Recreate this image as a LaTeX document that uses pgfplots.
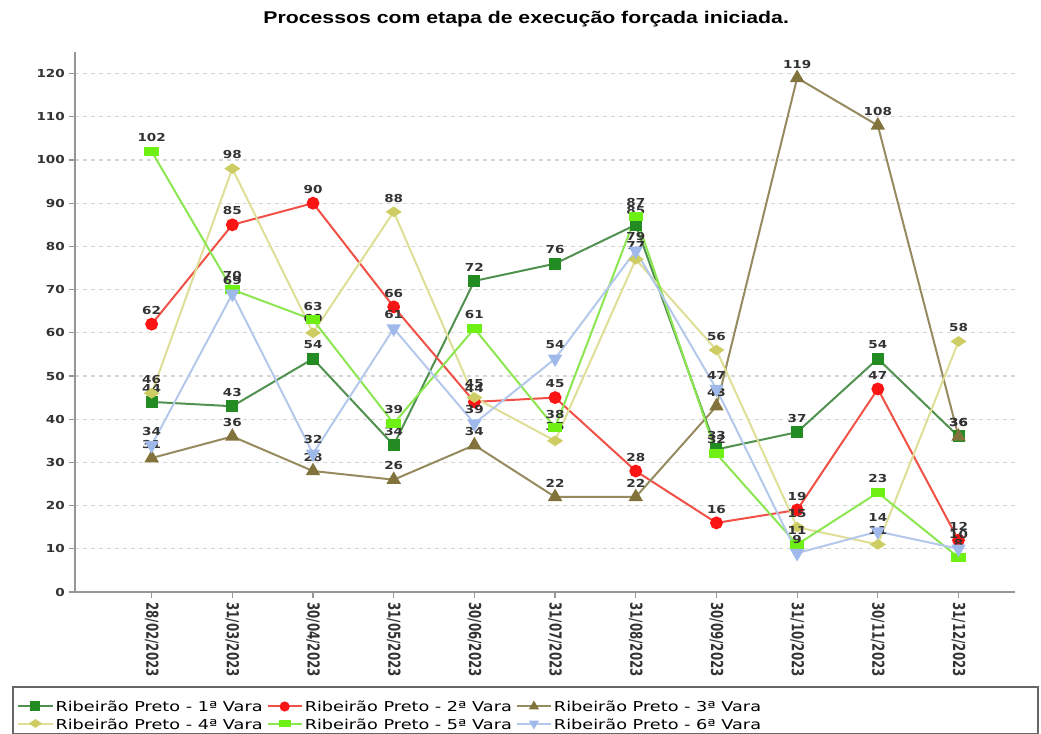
\documentclass[border=0pt]{standalone}
\usepackage{fontspec}
\setmainfont{DejaVu Sans}
\newfontfamily\titlefont{Liberation Sans}
\usepackage{pgfplots}
\pgfplotsset{compat=1.18}

\definecolor{cA}{RGB}{34,140,34}
\definecolor{cAl}{RGB}{80,145,80}
\definecolor{cB}{RGB}{250,20,20}
\definecolor{cBl}{RGB}{240,80,70}
\definecolor{cC}{RGB}{130,115,60}
\definecolor{cCl}{RGB}{150,138,95}
\definecolor{cD}{RGB}{205,205,100}
\definecolor{cDl}{RGB}{222,222,150}
\definecolor{cE}{RGB}{110,240,20}
\definecolor{cEl}{RGB}{140,230,80}
\definecolor{cF}{RGB}{160,185,235}
\definecolor{cFl}{RGB}{180,200,235}
\definecolor{axisgray}{RGB}{150,150,150}
\definecolor{gridgray}{RGB}{215,215,215}

% the reference is stretched sideways, so all text is widened a little
\newcommand{\wide}[1]{\scalebox{1.3}[1]{#1}}

\begin{document}
\begin{tikzpicture}
\begin{axis}[
  scale only axis,
  width=470pt, height=270pt,
  xmin=-0.95, xmax=10.7,
  ymin=0, ymax=125,
  axis lines*=left,
  axis line style={draw=axisgray, line width=1pt},
  tick align=outside,
  major tick length=3pt,
  tick style={axisgray, line width=0.6pt},
  ytick={0,10,...,120},
  xtick={0,...,10},
  xticklabels={28/02/2023,31/03/2023,30/04/2023,31/05/2023,30/06/2023,31/07/2023,31/08/2023,30/09/2023,31/10/2023,30/11/2023,31/12/2023},
  /pgf/number format/assume math mode=true,
  yticklabel style={font=\bfseries\fontsize{5.5}{6}\selectfont, xscale=1.23, text=black!80, inner sep=1.5pt},
  xticklabel style={font=\bfseries\fontsize{5.9}{7}\selectfont, rotate=-90, anchor=west, yscale=1.4, text=black!80, inner sep=2pt},
  ymajorgrids,
  major grid style={draw=gridgray, dash pattern=on 2pt off 2pt, line width=0.6pt},
  title={\scalebox{1.25}[1]{Processos com etapa de execução forçada iniciada.}},
  title style={font=\titlefont\bfseries\fontsize{8.5}{10}\selectfont, at={(axis description cs:0.48,1)}, anchor=base, yshift=8pt},
  nodes near coords,
  every node near coord/.append style={font=\bfseries\fontsize{5.5}{6}\selectfont, xscale=1.23, text=black!80, anchor=south, yshift=1pt},
  legend columns=3,
  legend cell align=left,
  legend image post style={mark size=2pt},
  legend style={at={(axis description cs:-0.0617,-0.19)}, anchor=north west, draw=none, fill=none,
    inner sep=0pt, row sep=-3pt,
    font=\fontsize{6.8}{8}\selectfont,
    nodes={inner sep=1pt, text height=0.75em, text depth=0.2em},
    /tikz/every even column/.append style={column sep=1pt}},
]
\addplot[color=cAl, line width=1pt, mark=square*, mark size=2.5pt, mark options={draw=cA, fill=cA}]
  coordinates {(0,44) (1,43) (2,54) (3,34) (4,72) (5,76) (6,85) (7,33) (8,37) (9,54) (10,36)};
\addplot[color=cBl, line width=1pt, mark=*, mark size=2.7pt, mark options={draw=cB, fill=cB}]
  coordinates {(0,62) (1,85) (2,90) (3,66) (4,44) (5,45) (6,28) (7,16) (8,19) (9,47) (10,12)};
\addplot[color=cCl, line width=1pt, mark=triangle*, mark size=3.2pt, mark options={draw=cC, fill=cC}]
  coordinates {(0,31) (1,36) (2,28) (3,26) (4,34) (5,22) (6,22) (7,43) (8,119) (9,108) (10,36)};
\addplot[color=cDl, line width=1pt, mark=diamond*, mark size=2.6pt, mark options={draw=cD, fill=cD, xscale=1.6, yscale=0.8}]
  coordinates {(0,46) (1,98) (2,60) (3,88) (4,45) (5,35) (6,77) (7,56) (8,15) (9,11) (10,58)};
\addplot[color=cEl, line width=1pt, mark=square*, mark size=2.5pt, mark options={draw=cE, fill=cE, xscale=1.25, yscale=0.7}]
  coordinates {(0,102) (1,70) (2,63) (3,39) (4,61) (5,38) (6,87) (7,32) (8,11) (9,23) (10,8)};
\addplot[color=cFl, line width=1pt, mark=triangle*, mark size=3.2pt, mark options={draw=cF, fill=cF, rotate=180}]
  coordinates {(0,34) (1,69) (2,32) (3,61) (4,39) (5,54) (6,79) (7,47) (8,9) (9,14) (10,10)};
\legend{\wide{Ribeirão Preto - 1ª Vara}, \wide{Ribeirão Preto - 2ª Vara}, \wide{Ribeirão Preto - 3ª Vara},
  \wide{Ribeirão Preto - 4ª Vara}, \wide{Ribeirão Preto - 5ª Vara}, \wide{Ribeirão Preto - 6ª Vara}}
\end{axis}
\draw[black!60, line width=0.6pt] (-31pt,-47.5pt) rectangle (481.5pt,-70.6pt);
\pgfresetboundingbox
\useasboundingbox (-37.5pt,-71pt) rectangle (483pt,296pt);
\end{tikzpicture}
\end{document}
